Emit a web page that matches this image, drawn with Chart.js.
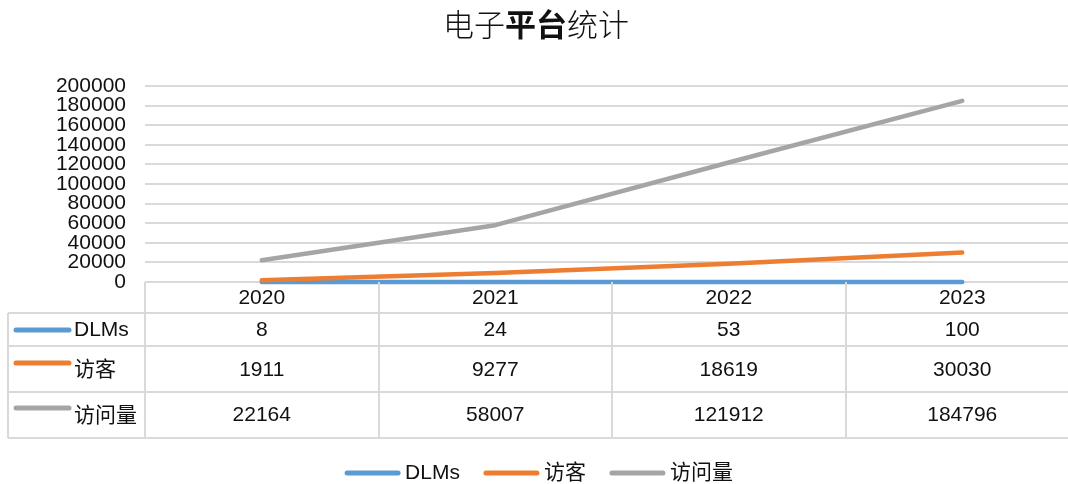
<!DOCTYPE html>
<html>
<head>
<meta charset="utf-8">
<script src="https://cdn.jsdelivr.net/npm/chart.js@4.4.1/dist/chart.umd.min.js"></script>
<style>
  html, body { margin: 0; padding: 0; overflow: hidden; background: #fff; }
  #wrap { width: 1090px; height: 484px; }
</style>
</head>
<body>
<div id="wrap"><canvas id="myChart" width="1090" height="484"></canvas></div>
<script>
// data
const years = ["2020", "2021", "2022", "2023"];
const seriesNames = ["DLMs", "访客", "访问量"];
const dlms = [8, 24, 53, 100];
const visitors = [1911, 9277, 18619, 30030];
const visits = [22164, 58007, 121912, 184796];
const seriesColors = ["#5b9bd5", "#ed7d31", "#a5a5a5"];
const yMax = 200000;
const yStep = 20000;

const FONT = '"Liberation Sans", "Noto Sans CJK SC", sans-serif';
const gridColor = "#d9d9d9";

// title with the middle part in bold
const titlePlugin = {
  id: "mixedTitle",
  afterDraw(chart) {
    const ctx = chart.ctx;
    const parts = [["电子", "300"], ["平台", "bold"], ["统计", "300"]];
    ctx.save();
    ctx.textBaseline = "middle";
    ctx.fillStyle = "#111";
    let total = 0;
    parts.forEach(p => {
      ctx.font = p[1] + " 31px " + FONT;
      total += ctx.measureText(p[0]).width;
    });
    let x = 536 - total / 2;
    parts.forEach(p => {
      ctx.font = p[1] + " 31px " + FONT;
      ctx.fillText(p[0], x, 27);
      x += ctx.measureText(p[0]).width;
    });
    ctx.restore();
  }
};

// data table under the plot, plus the bottom legend
const tablePlugin = {
  id: "dataTable",
  afterDraw(chart) {
    const ctx = chart.ctx;
    const xs = chart.scales.x;
    const area = chart.chartArea;
    const half = (xs.getPixelForValue(1) - xs.getPixelForValue(0)) / 2;
    const rowLines = [area.bottom, 313, 346, 392, 438];
    const valueY = [330, 370, 415.5];
    const keyY = [330, 363, 408];
    const nameY = [330, 370, 416];
    const tableLeft = 8;

    ctx.save();
    ctx.strokeStyle = gridColor;
    ctx.lineWidth = 2;
    ctx.beginPath();
    for (let r = 1; r < rowLines.length; r++) {
      ctx.moveTo(tableLeft, rowLines[r]);
      ctx.lineTo(chart.width, rowLines[r]);
    }
    ctx.moveTo(tableLeft, rowLines[1]);
    ctx.lineTo(tableLeft, rowLines[4]);
    for (let i = 0; i <= years.length; i++) {
      const bx = Math.round(xs.getPixelForValue(0) - half + i * half * 2);
      ctx.moveTo(bx, area.bottom);
      ctx.lineTo(bx, rowLines[4]);
    }
    ctx.stroke();

    ctx.fillStyle = "#111";
    ctx.textAlign = "center";
    ctx.textBaseline = "middle";
    ctx.font = "21px " + FONT;
    years.forEach((y, i) => ctx.fillText(y, xs.getPixelForValue(i), 298));

    chart.data.datasets.forEach((ds, r) => {
      ds.data.forEach((v, i) => ctx.fillText(String(v), xs.getPixelForValue(i), valueY[r]));
      ctx.strokeStyle = ds.borderColor;
      ctx.lineWidth = 5;
      ctx.lineCap = "round";
      ctx.beginPath();
      ctx.moveTo(16, keyY[r]);
      ctx.lineTo(69, keyY[r]);
      ctx.stroke();
      ctx.textAlign = "left";
      ctx.fillText(ds.label, 74, nameY[r]);
      ctx.textAlign = "center";
    });

    // legend
    ctx.font = "21px " + FONT;
    ctx.textAlign = "left";
    const lineLen = 55, gap = 5, itemGap = 24;
    const widths = chart.data.datasets.map(ds => lineLen + gap + ctx.measureText(ds.label).width);
    const totalW = widths.reduce((a, b) => a + b, 0) + itemGap * (widths.length - 1);
    let lx = 539 - totalW / 2;
    const ly = 473;
    chart.data.datasets.forEach((ds, r) => {
      ctx.strokeStyle = ds.borderColor;
      ctx.lineWidth = 5;
      ctx.lineCap = "round";
      ctx.beginPath();
      ctx.moveTo(lx + 2, ly);
      ctx.lineTo(lx + lineLen - 2, ly);
      ctx.stroke();
      ctx.fillText(ds.label, lx + lineLen + gap, ly);
      lx += widths[r] + itemGap;
    });
    ctx.restore();
  }
};

const ctx = document.getElementById("myChart");
new Chart(ctx, {
  type: "line",
  data: {
    labels: years,
    datasets: [
      { label: seriesNames[0], data: dlms, borderColor: seriesColors[0], order: 2 },
      { label: seriesNames[1], data: visitors, borderColor: seriesColors[1], order: 1 },
      { label: seriesNames[2], data: visits, borderColor: seriesColors[2], order: 0 },
    ].map(d => Object.assign(d, {
      backgroundColor: d.borderColor,
      borderWidth: 4.5,
      borderCapStyle: "round",
      borderJoinStyle: "round",
      pointRadius: 0,
      tension: 0,
      fill: false,
      clip: false,
    })),
  },
  options: {
    responsive: false,
    animation: false,
    events: [],
    layout: { padding: { top: 86, right: 11, bottom: 0, left: 0 } },
    plugins: {
      legend: { display: false },
      title: { display: false },
      tooltip: { enabled: false },
    },
    scales: {
      x: {
        offset: true,
        grid: { display: false },
        border: { display: false },
        ticks: { display: false },
        afterFit(s) { s.height = 202; },
      },
      y: {
        min: 0,
        max: yMax,
        ticks: {
          stepSize: yStep,
          autoSkip: false,
          callback: v => String(v),
          color: "#111",
          font: { family: FONT, size: 21 },
          padding: 19,
        },
        grid: { color: gridColor, lineWidth: 2, drawTicks: false },
        border: { display: false },
        afterFit(s) { s.width = 145; },
      },
    },
  },
  plugins: [titlePlugin, tablePlugin],
});
</script>
</body>
</html>
